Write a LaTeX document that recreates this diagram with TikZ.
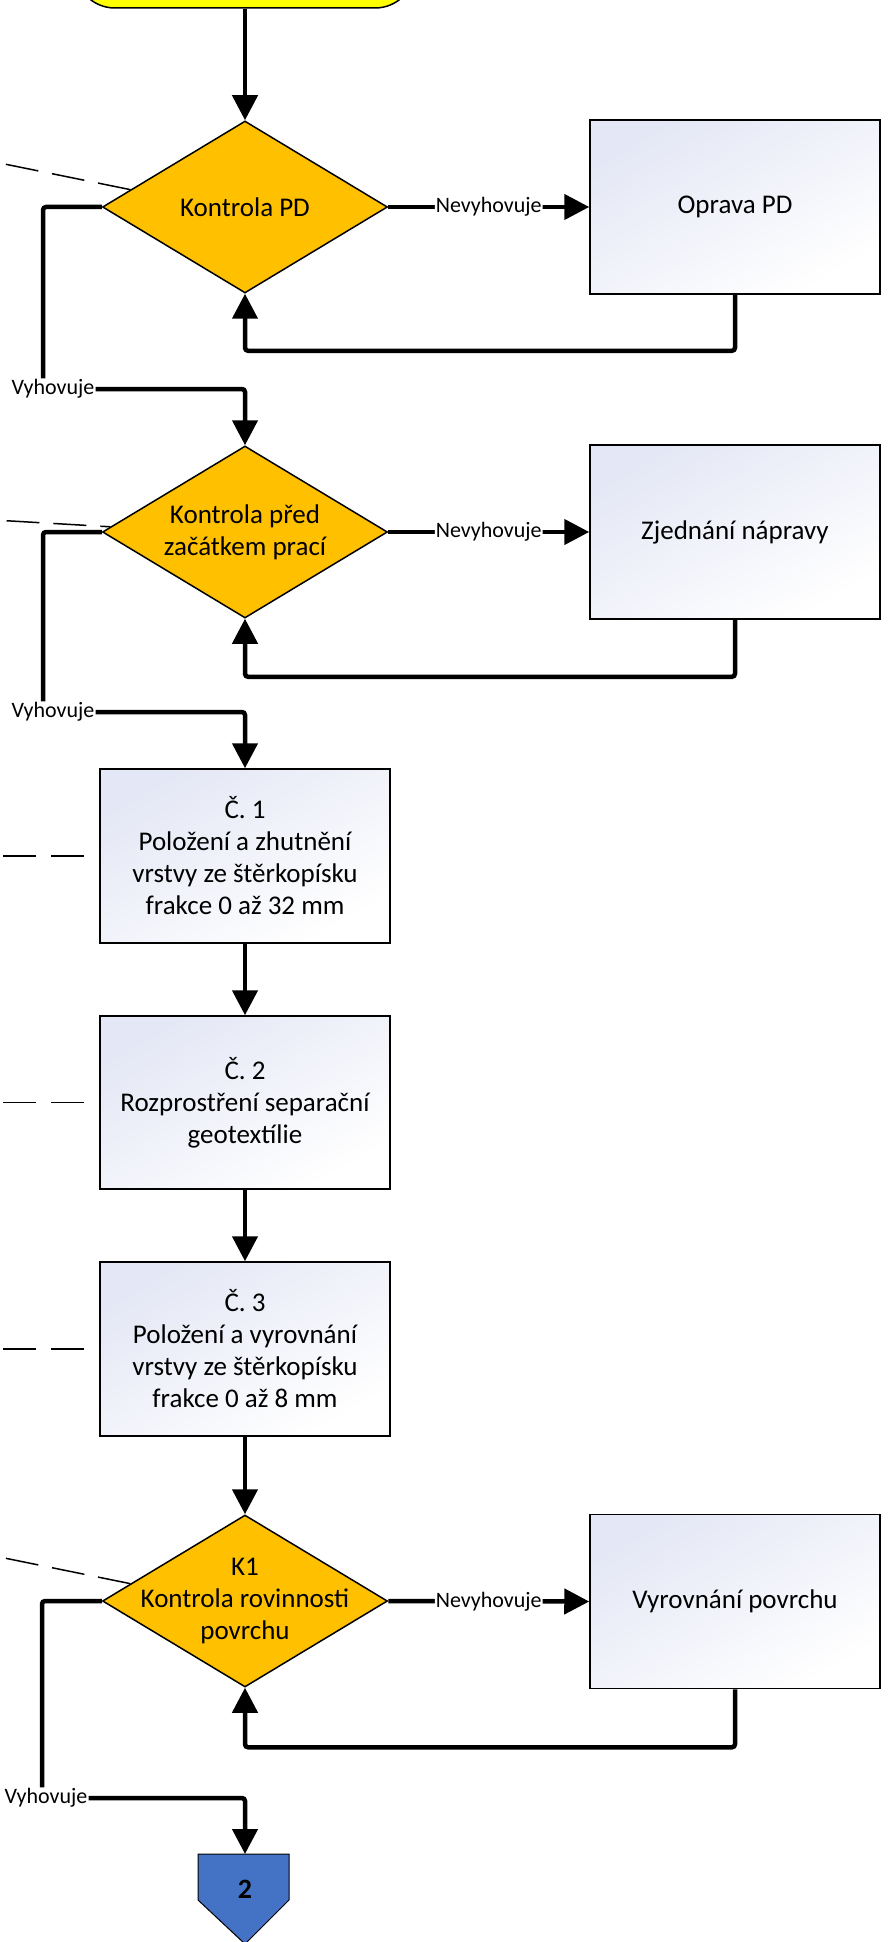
\documentclass[tikz,border=0pt]{standalone}
\usepackage{fontspec}
\setmainfont{Carlito}
\usetikzlibrary{shapes.geometric,arrows.meta,calc}
\definecolor{dgold}{HTML}{FFC000}
\definecolor{tyellow}{HTML}{FFFF00}
\definecolor{cblue}{HTML}{4472C4}
\definecolor{boxlav}{HTML}{E4E7F5}
\definecolor{boxmid}{HTML}{F8F8FC}
\newcommand\fbig{\fontsize{27}{32}\selectfont}
\newcommand\fsmall{\fontsize{22}{26}\selectfont}
\tikzset{
  conn/.style={line width=4.5pt, rounded corners=3pt, -{Triangle[length=25pt,width=25pt]}},
  plainline/.style={line width=4.5pt, rounded corners=3pt},
  dashline/.style={line width=1.5pt, dash pattern=on 33pt off 14pt},
  decision/.style={diamond, draw, line width=1.5pt, fill=dgold, minimum width=285pt, minimum height=172pt, inner sep=0pt},
  stepbox/.style={rectangle, draw, line width=1.5pt, top color=boxlav, middle color=boxmid, bottom color=white, shading angle=30, minimum width=290pt, minimum height=174pt, align=center, font=\fbig},
  terminal/.style={rectangle, draw, line width=1.5pt, fill=tyellow, rounded corners=40pt, minimum width=340pt, minimum height=78pt},
  lbl/.style={font=\fsmall, inner sep=1pt},
  lblw/.style={font=\fsmall, fill=white, inner sep=1pt},
  dlabel/.style={font=\fbig, align=center},
}
\begin{document}
\begin{tikzpicture}[x=1pt,y=-1pt]
\useasboundingbox (0,0) rectangle (890,1942);
\clip (0,0) rectangle (890,1942);

% nodes
\node[terminal] (start) at (245,-31) {};
\node[decision, label={[dlabel]center:Kontrola PD}] (d1) at (245,207) {};
\node[stepbox] (r1) at (735,207) {Oprava PD};
\node[decision, label={[dlabel]center:{Kontrola před\\začátkem prací}}] (d2) at (245,532) {};
\node[stepbox] (r2) at (735,532) {Zjednání nápravy};
\node[stepbox] (b1) at (245,856) {Č. 1\\Položení a zhutnění\\vrstvy ze štěrkopísku\\frakce 0 až 32 mm};
\node[stepbox, minimum height=173pt] (b2) at (245,1102.5) {Č. 2\\Rozprostření separační\\geotextílie};
\node[stepbox] (b3) at (245,1349) {Č. 3\\Položení a vyrovnání\\vrstvy ze štěrkopísku\\frakce 0 až 8 mm};
\node[decision, label={[dlabel]center:{K1\\Kontrola rovinnosti\\povrchu}}] (d3) at (245,1601) {};
\node[stepbox] (r3) at (735,1601.5) {Vyrovnání povrchu};

\node[lbl] (v1) at (53,389) {Vyhovuje};
\node[lbl] (v2) at (53,712) {Vyhovuje};
\node[lbl] (v3) at (46,1798) {Vyhovuje};

% off-page connector
\draw[line width=1pt, fill=cblue] (198,1854) -- (289,1854) -- (289,1900) -- (245,1944) -- (198,1900) -- cycle;
\coordinate (c2top) at (245,1854);
\node[font=\fontsize{28}{30}\selectfont\bfseries] (c2) at (245,1889) {2};

% main flow
\draw[conn] (start.south) -- (d1.north);
\draw[conn] (d1.east) -- node[lblw]{Nevyhovuje} (r1.west);
\draw[conn] (r1.south) -- ++(0,56) -| (d1.south);
\draw[plainline] (d1.west) -| ([xshift=-10pt]v1.north);
\draw[conn] (v1.east) -| (d2.north);

\draw[conn] (d2.east) -- node[lblw]{Nevyhovuje} (r2.west);
\draw[conn] (r2.south) -- ++(0,57) -| (d2.south);
\draw[plainline] (d2.west) -| ([xshift=-10pt]v2.north);
\draw[conn] (v2.east) -| (b1.north);

\draw[conn] (b1.south) -- (b2.north);
\draw[conn] (b2.south) -- (b3.north);
\draw[conn] (b3.south) -- (d3.north);

\draw[conn] (d3.east) -- node[lblw]{Nevyhovuje} (r3.west);
\draw[conn] (r3.south) -- ++(0,58) -| (d3.south);
\draw[plainline] (d3.west) -| ([xshift=-4pt]v3.north);
\draw[conn] (v3.east) -| (c2top);

% dashed annotation lines
\coordinate (e1) at ($(d1.west)!0.2!(d1.north)$);
\coordinate (e2) at ($(d2.west)!0.06!(d2.north)$);
\coordinate (e3) at ($(d3.west)!0.2!(d3.north)$);
\draw[dashline] (e1) -- ++(-140,-28.5);
\draw[dashline, dash phase=23pt] (e2) -- ++(-120,-7);
\draw[dashline, dash pattern=on 33pt off 15pt, dash phase=33pt] (b1.west) -- ++(-110,0);
\draw[dashline, dash pattern=on 33pt off 15pt, dash phase=33pt] (b2.west) -- ++(-110,0);
\draw[dashline, dash pattern=on 33pt off 15pt, dash phase=33pt] (b3.west) -- ++(-110,0);
\draw[dashline] (e3) -- ++(-140,-28.5);
\end{tikzpicture}
\end{document}
